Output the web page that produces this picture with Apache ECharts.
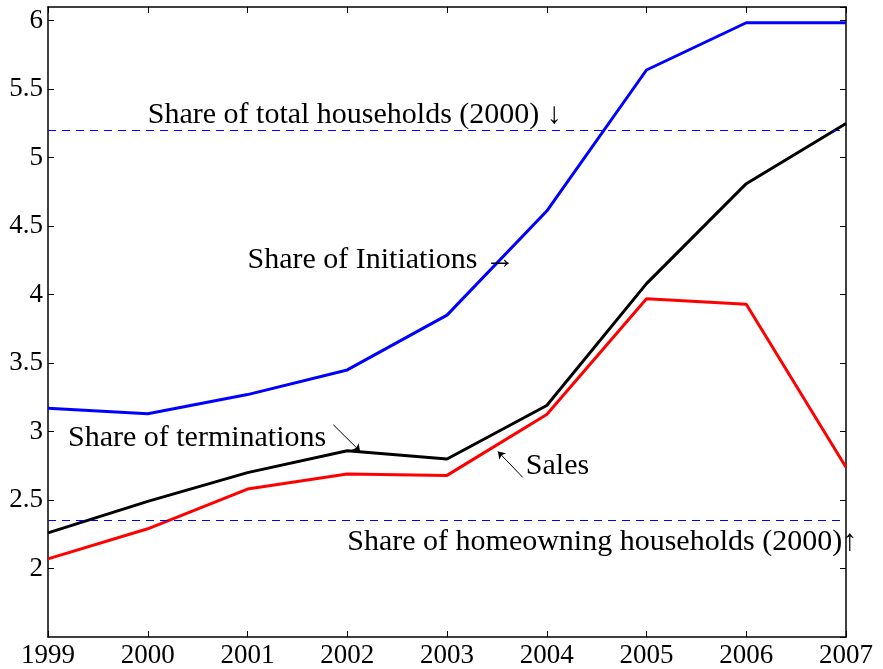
<!DOCTYPE html>
<html>
<head>
<meta charset="utf-8">
<script src="https://cdn.jsdelivr.net/npm/echarts@6/dist/echarts.min.js"></script>
<style>
  html, body { margin: 0; padding: 0; background: #fff; }
  #main { width: 883px; height: 669px; }
</style>
</head>
<body>
<div id="main"></div>
<script>
// years on the x axis
var years = [1999, 2000, 2001, 2002, 2003, 2004, 2005, 2006, 2007];
// share of initiations (blue)
var initiations = [3.17, 3.13, 3.27, 3.45, 3.85, 4.61, 5.64, 5.985, 5.985];
// share of terminations (black)
var terminations = [2.26, 2.49, 2.70, 2.86, 2.80, 3.19, 4.08, 4.81, 5.25];
// sales (red)
var sales = [2.07, 2.29, 2.58, 2.69, 2.68, 3.125, 3.97, 3.93, 2.74];
// reference levels (2000)
var totalHouseholds = 5.2;
var homeowningHouseholds = 2.35;

var FONT = "Liberation Serif";
var NOTE_SIZE = 30;
var TICK_SIZE = 27;

function pairs(vals) {
  return years.map(function (y, i) { return [y, vals[i]]; });
}

var chart = echarts.init(document.getElementById("main"));

function note(x, y, text) {
  return {
    coord: [x, y],
    symbol: "circle",
    symbolSize: 0,
    label: {
      show: true,
      position: "right",
      distance: 0,
      formatter: text,
      fontFamily: FONT,
      fontSize: NOTE_SIZE,
      color: "#000",
    },
  };
}

function arrow(x1, y1, x2, y2) {
  return [{ coord: [x1, y1] }, { coord: [x2, y2] }];
}

function hline(v) {
  return {
    silent: true,
    symbol: ["none", "none"],
    label: { show: false },
    lineStyle: { color: "#0000ff", type: [8, 6], width: 1, opacity: 1 },
    emphasis: { disabled: true },
    data: [{ yAxis: v }],
  };
}

var frameLine = { show: true, lineStyle: { color: "#000", width: 1.5 } };
var innerTick = { show: true, inside: true, length: 6, lineStyle: { color: "#000" } };

chart.setOption({
  animation: false,
  backgroundColor: "#fff",
  grid: { left: 48, right: 37, top: 7, bottom: 32 },
  xAxis: [
    {
      type: "value",
      min: 1999,
      max: 2007,
      interval: 1,
      axisLine: frameLine,
      axisTick: innerTick,
      axisLabel: {
        fontFamily: FONT,
        fontSize: TICK_SIZE,
        color: "#000",
        margin: 5,
        formatter: function (v) { return String(v); },
      },
      splitLine: { show: false },
    },
    {
      type: "value",
      position: "top",
      min: 1999,
      max: 2007,
      interval: 1,
      axisLine: frameLine,
      axisTick: innerTick,
      axisLabel: { show: false },
      splitLine: { show: false },
    },
  ],
  yAxis: [
    {
      type: "value",
      min: 1.5,
      max: 6.1,
      interval: 0.5,
      axisLine: frameLine,
      axisTick: innerTick,
      axisLabel: {
        fontFamily: FONT,
        fontSize: TICK_SIZE,
        color: "#000",
        margin: 5,
        showMinLabel: false,
        showMaxLabel: false,
        formatter: function (v) {
          if (v < 1.9 || v > 6.05) return "";
          return String(v);
        },
      },
      splitLine: { show: false },
    },
    {
      type: "value",
      position: "right",
      min: 1.5,
      max: 6.1,
      interval: 0.5,
      axisLine: frameLine,
      axisTick: innerTick,
      axisLabel: { show: false },
      splitLine: { show: false },
    },
  ],
  series: [
    {
      name: "Share of Initiations",
      type: "line",
      data: pairs(initiations),
      symbol: "none",
      lineStyle: { color: "#0000ff", width: 3 },
      itemStyle: { color: "#0000ff" },
      markLine: hline(totalHouseholds),
    },
    {
      name: "Share of terminations",
      type: "line",
      data: pairs(terminations),
      symbol: "none",
      lineStyle: { color: "#000000", width: 3 },
      itemStyle: { color: "#000000" },
      markPoint: {
        silent: true,
        data: [
          note(2000.0, 5.31, "Share of total households (2000) \u2193"),
          note(2001.0, 4.255, "Share of Initiations \u2192"),
          note(1999.2, 2.95, "Share of terminations"),
          note(2003.79, 2.75, "Sales"),
          note(2002.0, 2.19, "Share of homeowning households (2000)\u2191"),
        ],
      },
      markLine: {
        silent: true,
        symbol: ["none", "arrow"],
        symbolSize: 7,
        label: { show: false },
        lineStyle: { color: "#000", type: "solid", width: 1 },
        data: [
          arrow(2001.86, 3.05, 2002.13, 2.855),
          arrow(2003.76, 2.665, 2003.51, 2.855),
        ],
      },
    },
    {
      name: "Sales",
      type: "line",
      data: pairs(sales),
      symbol: "none",
      lineStyle: { color: "#ff0000", width: 3 },
      itemStyle: { color: "#ff0000" },
      markLine: hline(homeowningHouseholds),
    },
  ],
});
</script>
</body>
</html>
